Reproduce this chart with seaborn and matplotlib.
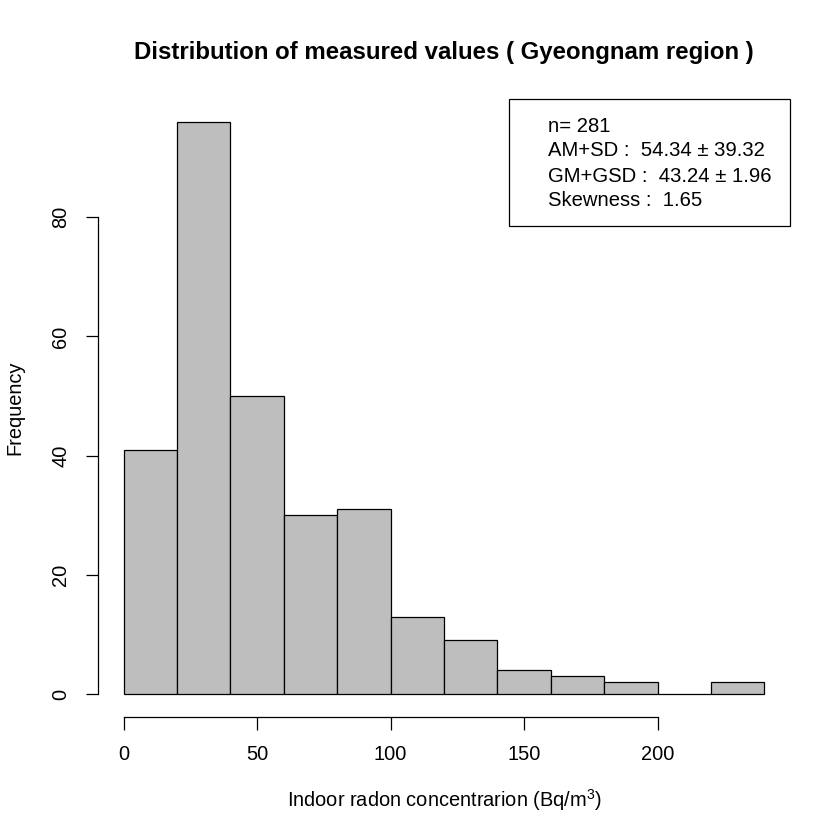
import matplotlib
matplotlib.use('Agg')
import matplotlib.pyplot as plt
import seaborn as sns
import numpy as np
import pandas as pd

# bin edges and counts
bin_edges = [0, 20, 40, 60, 80, 100, 120, 140, 160, 180, 200, 220, 240]
counts = [41, 96, 50, 30, 31, 13, 9, 4, 3, 2, 0, 2]
x_ticks = [0, 50, 100, 150, 200]
y_ticks = [0, 20, 40, 60, 80]
stats_lines = ['n= 281', 'AM+SD :  54.34 \u00b1 39.32',
               'GM+GSD :  43.24 \u00b1 1.96', 'Skewness :  1.65']

sns.set_style('white')
plt.rcParams['font.family'] = ['Liberation Sans', 'DejaVu Sans']
plt.rcParams['text.color'] = 'black'
plt.rcParams['mathtext.fontset'] = 'custom'
plt.rcParams['mathtext.rm'] = 'Liberation Sans'
plt.rcParams['mathtext.it'] = 'Liberation Sans:italic'

df = pd.DataFrame({
    'mid': [(a + b) / 2 for a, b in zip(bin_edges[:-1], bin_edges[1:])],
    'count': counts,
})

fig = plt.figure(figsize=(8.4, 8.4), dpi=100)
ax = fig.add_axes([98 / 840, 1 - 717 / 840, 692 / 840, 618 / 840])

sns.histplot(data=df, x='mid', weights='count', bins=bin_edges, ax=ax,
             color='#bebebe', edgecolor='black', linewidth=0.9, alpha=1)

ax.set_xlim(-9.6, 249.6)
ax.set_ylim(-3.84, 99.84)
ax.set_xticks(x_ticks)
ax.set_yticks(y_ticks)
ax.set_xlabel('')
ax.set_ylabel('')
for s in ['top', 'right']:
    ax.spines[s].set_visible(False)
ax.spines['bottom'].set_bounds(0, 200)
ax.spines['left'].set_bounds(0, 80)
for s in ['bottom', 'left']:
    ax.spines[s].set_linewidth(0.9)
    ax.spines[s].set_color('black')
ax.tick_params(axis='both', direction='out', length=9, width=0.9,
               colors='black', labelsize=14.4, pad=11, left=True, bottom=True)
plt.setp(ax.get_yticklabels(), rotation=90, va='center')

# stats box in the top right corner
box = plt.Rectangle((0.594, 0.794), 0.406, 0.206, transform=ax.transAxes,
                    fill=False, edgecolor='black', linewidth=0.9, clip_on=False)
ax.add_patch(box)
for y, line in zip([0.956, 0.916, 0.875, 0.835], stats_lines):
    ax.text(0.650, y, line, transform=ax.transAxes, fontsize=14.6,
            va='center', ha='left', color='black')

fig.text(444 / 840, 1 - 52 / 840, 'Distribution of measured values ( Gyeongnam region )',
         ha='center', va='center', fontsize=17.3, fontweight='bold', color='black')
fig.text(444 / 840, 1 - 800 / 840, 'Indoor radon concentrarion (Bq/m$^3$)',
         ha='center', va='center', fontsize=14.4, color='black')
fig.text(15 / 840, 1 - 408 / 840, 'Frequency', rotation=90,
         ha='center', va='center', fontsize=14.4, color='black')

fig.savefig('out.png', dpi=100)
